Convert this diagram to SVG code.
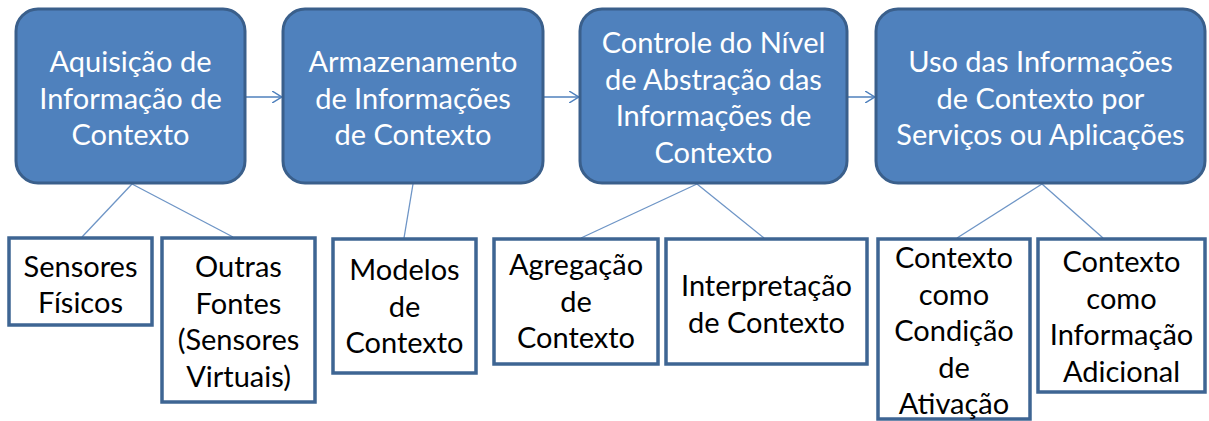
<svg xmlns="http://www.w3.org/2000/svg" width="1209" height="421" viewBox="0 0 1209 421">
<defs>
<style>
.top{fill:#4F81BD;stroke:#3A5F8B;stroke-width:3}
.sub{fill:#FFFFFF;stroke:#3E6593;stroke-width:3.5}
.tw{font-family:Lato,"Liberation Sans",sans-serif;font-size:29px;fill:#FFFFFF;text-anchor:middle}
.tb{font-family:Lato,"Liberation Sans",sans-serif;font-size:29px;fill:#000000;text-anchor:middle}
.ln{stroke:#6E95C6;stroke-width:1.3;fill:none}
.ar{stroke:#4F81BD;stroke-width:1.5;fill:none}
</style>
<marker id="chev" viewBox="0 0 10 12" refX="10" refY="6" markerWidth="10" markerHeight="12" markerUnits="userSpaceOnUse" orient="auto">
<path d="M0,0 L10,6 L0,12" fill="none" stroke="#4F81BD" stroke-width="1.5"/>
</marker>
</defs>
<rect width="1209" height="421" fill="#FFFFFF"/>
<g id="connectors">
<line class="ar" x1="246" y1="97" x2="282" y2="97" marker-end="url(#chev)"/>
<line class="ar" x1="544" y1="97" x2="579" y2="97" marker-end="url(#chev)"/>
<line class="ar" x1="848" y1="97" x2="875" y2="97" marker-end="url(#chev)"/>
<line class="ln" x1="132" y1="184" x2="82" y2="237"/>
<line class="ln" x1="132" y1="184" x2="233" y2="237"/>
<line class="ln" x1="413" y1="184" x2="404" y2="238"/>
<line class="ln" x1="697" y1="184" x2="581" y2="238"/>
<line class="ln" x1="697" y1="184" x2="764" y2="238"/>
<line class="ln" x1="1042" y1="184" x2="957" y2="238"/>
<line class="ln" x1="1042" y1="184" x2="1103" y2="238"/>
</g>
<g id="n1">
<rect class="top" x="16" y="9" width="229" height="174" rx="22"/>
<text class="tw" x="130.5" y="72">Aquisição de</text>
<text class="tw" x="130.5" y="108.5">Informação de</text>
<text class="tw" x="130.5" y="145">Contexto</text>
</g>
<g id="n2">
<rect class="top" x="283" y="9" width="260" height="174" rx="22"/>
<text class="tw" x="413" y="72">Armazenamento</text>
<text class="tw" x="413" y="108.5">de Informações</text>
<text class="tw" x="413" y="145">de Contexto</text>
</g>
<g id="n3">
<rect class="top" x="580" y="9" width="267" height="174" rx="22"/>
<text class="tw" x="713.5" y="53">Controle do Nível</text>
<text class="tw" x="713.5" y="89.5">de Abstração das</text>
<text class="tw" x="713.5" y="126">Informações de</text>
<text class="tw" x="713.5" y="162.5">Contexto</text>
</g>
<g id="n4">
<rect class="top" x="876" y="9" width="329" height="174" rx="22"/>
<text class="tw" x="1040.5" y="72">Uso das Informações</text>
<text class="tw" x="1040.5" y="108.5">de Contexto por</text>
<text class="tw" x="1040.5" y="145">Serviços ou Aplicações</text>
</g>
<g id="s1">
<rect class="sub" x="9" y="238" width="143" height="87"/>
<text class="tb" x="80.5" y="277">Sensores</text>
<text class="tb" x="80.5" y="313">Físicos</text>
</g>
<g id="s2">
<rect class="sub" x="162" y="238" width="153" height="164"/>
<text class="tb" x="238.5" y="277">Outras</text>
<text class="tb" x="238.5" y="313.5">Fontes</text>
<text class="tb" x="238.5" y="350">(Sensores</text>
<text class="tb" x="238.5" y="386.5">Virtuais)</text>
</g>
<g id="s3">
<rect class="sub" x="333" y="239" width="143" height="134"/>
<text class="tb" x="404.5" y="280">Modelos</text>
<text class="tb" x="404.5" y="316.5">de</text>
<text class="tb" x="404.5" y="353">Contexto</text>
</g>
<g id="s4">
<rect class="sub" x="494" y="239" width="164" height="125"/>
<text class="tb" x="576" y="275">Agregação</text>
<text class="tb" x="576" y="311.5">de</text>
<text class="tb" x="576" y="348">Contexto</text>
</g>
<g id="s5">
<rect class="sub" x="666" y="239" width="201" height="125"/>
<text class="tb" x="766.5" y="296">Interpretação</text>
<text class="tb" x="766.5" y="332.5">de Contexto</text>
</g>
<g id="s6">
<rect class="sub" x="878" y="239" width="152" height="180"/>
<text class="tb" x="954" y="268">Contexto</text>
<text class="tb" x="954" y="304.5">como</text>
<text class="tb" x="954" y="341">Condição</text>
<text class="tb" x="954" y="377.5">de</text>
<text class="tb" x="954" y="414">Ativação</text>
</g>
<g id="s7">
<rect class="sub" x="1038" y="239" width="167" height="153"/>
<text class="tb" x="1121.5" y="272">Contexto</text>
<text class="tb" x="1121.5" y="308.5">como</text>
<text class="tb" x="1121.5" y="345">Informação</text>
<text class="tb" x="1121.5" y="381.5">Adicional</text>
</g>
</svg>
